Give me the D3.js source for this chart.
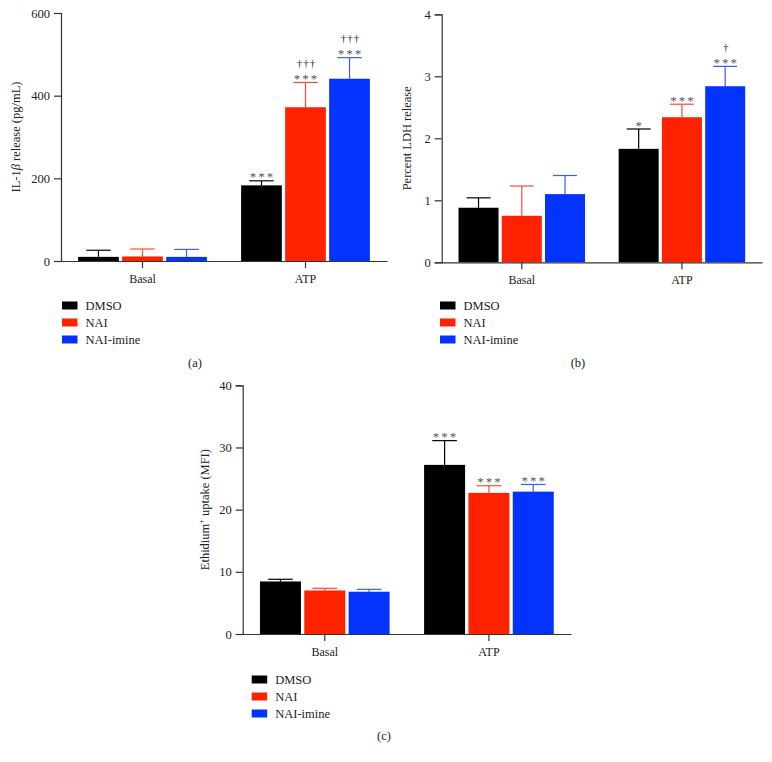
<!DOCTYPE html>
<html><head><meta charset="utf-8">
<script src="https://cdn.jsdelivr.net/npm/d3@7"></script>
<style>
body{margin:0;background:#fff;}
svg text{font-family:"Liberation Serif","DejaVu Serif",serif;fill:#222;}
</style></head>
<body><svg id="c" width="772" height="762"></svg>
<script>
const categories = ["Basal", "ATP"];
const seriesNames = ["DMSO", "NAI", "NAI-imine"];
const seriesColors = ["#000000", "#ff2200", "#0433ff"];
const errColors = ["#000000", "#ff4a33", "#3a5cff"];

// Panel (a) IL-1β
const aValues = [[10, 11, 10], [183, 372, 441]];
const aErrors = [[16, 18, 18], [11, 60, 51]];
const aStars = [["", "", ""], ["***", "***", "***"]];
const aDaggers = [["", "", ""], ["", "†††", "†††"]];
const aTicks = [0, 200, 400, 600];

// Panel (b) LDH
const bValues = [[0.88, 0.75, 1.10], [1.83, 2.34, 2.84]];
const bErrors = [[0.16, 0.48, 0.30], [0.32, 0.21, 0.32]];
const bStars = [["", "", ""], ["*", "***", "***"]];
const bDaggers = [["", "", ""], ["", "", "†"]];
const bTicks = [0, 1, 2, 3, 4];

// Panel (c) Ethidium uptake
const cValues = [[8.45, 7.0, 6.8], [27.2, 22.7, 22.9]];
const cErrors = [[0.35, 0.35, 0.38], [3.9, 1.15, 1.15]];
const cStars = [["", "", ""], ["***", "***", "***"]];
const cDaggers = [["", "", ""], ["", "", ""]];
const cTicks = [0, 10, 20, 30, 40];

const svg = d3.select("#c");
const FONT = "Liberation Serif, DejaVu Serif, serif";

function panel(o) {
  const g = svg.append("g");
  const y = d3.scaleLinear().domain([0, o.ymax]).range([o.y0, o.y1]);
  const x = d3.scaleBand().domain(categories).range([o.x0, o.x1]).paddingInner(0.21).paddingOuter(0.105);
  const xs = d3.scaleBand().domain(seriesNames).range([0, x.bandwidth()]).paddingInner(0.075);

  categories.forEach((cat, ci) => {
    seriesNames.forEach((s, si) => {
      const v = o.values[ci][si], e = o.errors[ci][si];
      const bx = x(cat) + xs(s), bw = xs.bandwidth();
      const cx = bx + bw / 2;
      g.append("line").attr("x1", cx).attr("x2", cx).attr("y1", y(v)).attr("y2", y(v + e))
        .attr("stroke", errColors[si]).attr("stroke-width", 1.2);
      g.append("line").attr("x1", cx - bw * 0.3).attr("x2", cx + bw * 0.3).attr("y1", y(v + e)).attr("y2", y(v + e))
        .attr("stroke", errColors[si]).attr("stroke-width", 1.2);
      g.append("rect").attr("x", bx).attr("y", y(v)).attr("width", bw).attr("height", y(0) - y(v))
        .attr("fill", seriesColors[si]);
      const st = o.stars[ci][si], dg = o.daggers[ci][si];
      if (st) {
        g.append("text").attr("x", cx + 1).attr("y", y(v + e) + 0.5).attr("text-anchor", "middle")
          .attr("font-size", 13).attr("letter-spacing", "2px").style("fill", "#555").text(st);
      }
      if (dg) {
        g.append("text").attr("x", cx + 1).attr("y", y(v + e) - 15.5).attr("text-anchor", "middle")
          .attr("font-size", 11).attr("letter-spacing", "1px").style("fill", "#222").text(dg);
      }
    });
  });

  const ya = g.append("g").attr("transform", `translate(${o.x0},0)`)
    .call(d3.axisLeft(y).tickValues(o.ticks).tickFormat(d3.format("d")).tickSize(7).tickPadding(4));
  ya.attr("font-family", FONT);
  ya.select(".domain").attr("stroke", "#333").attr("stroke-width", 1.2);
  ya.selectAll(".tick line").attr("stroke", "#333").attr("stroke-width", 1.2);
  ya.selectAll(".tick text").attr("font-size", 12.5).style("fill", "#222");

  const xa = g.append("g").attr("transform", `translate(0,${o.y0})`)
    .call(d3.axisBottom(x).tickSize(7).tickPadding(6).tickSizeOuter(0));
  xa.attr("font-family", FONT);
  xa.select(".domain").attr("stroke", "#333").attr("stroke-width", 1.2);
  xa.selectAll(".tick line").attr("stroke", "#333").attr("stroke-width", 1.2);
  xa.selectAll(".tick text").attr("font-size", 12).style("fill", "#222");

  const yl = g.append("text").attr("transform", `translate(${o.ylx},${(o.y0 + o.y1) / 2}) rotate(-90)`)
    .attr("text-anchor", "middle").attr("font-size", 12.5);
  o.ylabel(yl);

  seriesNames.forEach((s, si) => {
    const ly = o.ly + si * 17;
    g.append("rect").attr("x", o.lx).attr("y", ly - 4).attr("width", 15.5).attr("height", 8).attr("fill", seriesColors[si]);
    g.append("text").attr("x", o.lx + 23.5).attr("y", ly + 4.5).attr("font-size", 12.5).text(s);
  });
  g.append("text").attr("x", o.capx).attr("y", o.capy).attr("text-anchor", "middle").attr("font-size", 12.5).text(o.caption);
}

panel({x0: 61, x1: 387, y0: 261, y1: 13, ymax: 600, ticks: aTicks,
  values: aValues, errors: aErrors, stars: aStars, daggers: aDaggers,
  ylx: 20, ylabel: t => { t.append("tspan").text("IL-1"); t.append("tspan").attr("font-style", "italic").text("β"); t.append("tspan").text(" release (pg/mL)"); },
  lx: 62, ly: 305.5, capx: 195, capy: 367, caption: "(a)"});

panel({x0: 441.7, x1: 762, y0: 262.3, y1: 14.3, ymax: 4, ticks: bTicks,
  values: bValues, errors: bErrors, stars: bStars, daggers: bDaggers,
  ylx: 410.5, ylabel: t => t.text("Percent LDH release"),
  lx: 440, ly: 305.5, capx: 578, capy: 367, caption: "(b)"});

panel({x0: 242.7, x1: 571, y0: 634, y1: 385.3, ymax: 40, ticks: cTicks,
  values: cValues, errors: cErrors, stars: cStars, daggers: cDaggers,
  ylx: 209, ylabel: t => { t.append("tspan").text("Ethidium"); t.append("tspan").attr("font-size", 8).attr("dy", -5).text("+"); t.append("tspan").attr("dy", 5).text(" uptake (MFI)"); },
  lx: 251.7, ly: 679.5, capx: 384, capy: 740, caption: "(c)"});
</script></body></html>
